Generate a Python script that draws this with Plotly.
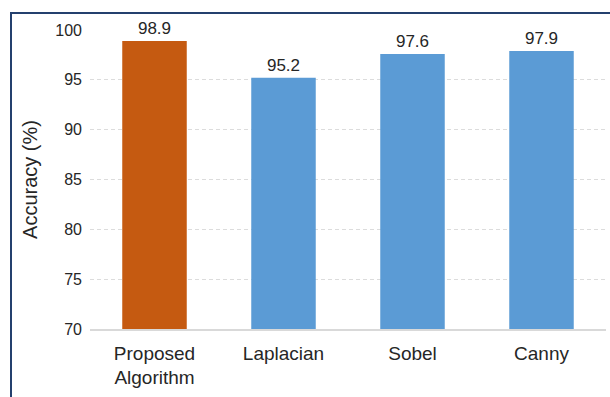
import plotly.graph_objects as go

categories = ["Proposed<br>Algorithm", "Laplacian", "Sobel", "Canny"]
accuracy = [98.9, 95.2, 97.6, 97.9]
bar_colors = ["#C55A11", "#5B9BD5", "#5B9BD5", "#5B9BD5"]
y_ticks = [70, 75, 80, 85, 90, 95, 100]

W, H = 610, 397
L, R, T, B = 90, 4, 30, 68

fig = go.Figure()
fig.add_trace(go.Bar(
    x=categories, y=accuracy,
    marker=dict(color=bar_colors, line=dict(width=0)),
    width=0.5,
    text=[f"{v:.1f}" for v in accuracy],
    textposition="outside",
    textfont=dict(size=17, color="#262626", family="Liberation Sans"),
    cliponaxis=False,
))

pw = W - L - R
ph = H - T - B
def px_x(px):
    return (px - L) / pw
def px_y(py):
    return (H - B - py) / ph

fig.add_shape(type="rect", xref="paper", yref="paper",
              x0=px_x(11), x1=px_x(700), y0=px_y(500), y1=px_y(13),
              line=dict(color="#24406E", width=2), fillcolor="rgba(0,0,0,0)",
              layer="above")

fig.update_layout(
    width=W, height=H,
    margin=dict(l=L, r=R, t=T, b=B),
    plot_bgcolor="white", paper_bgcolor="white",
    showlegend=False,
    bargap=0.5,
    font=dict(family="Liberation Sans", color="#262626"),
    xaxis=dict(
        showgrid=False, showline=True, linecolor="#D9D9D9", linewidth=1.5,
        tickfont=dict(size=19, color="#262626"), ticks="",
        ticklabelstandoff=6,
    ),
    yaxis=dict(
        range=[70, 100], tickvals=y_ticks,
        showgrid=True, gridcolor="#DCDCDC", griddash="4px,3px", gridwidth=1,
        zeroline=False, showline=False,
        tickfont=dict(size=16, color="#262626"),
        ticks="", ticklabelstandoff=7,
        title=dict(text="Accuracy (%)", font=dict(size=20, color="#262626"), standoff=12),
    ),
)

fig.write_html("out.html")
